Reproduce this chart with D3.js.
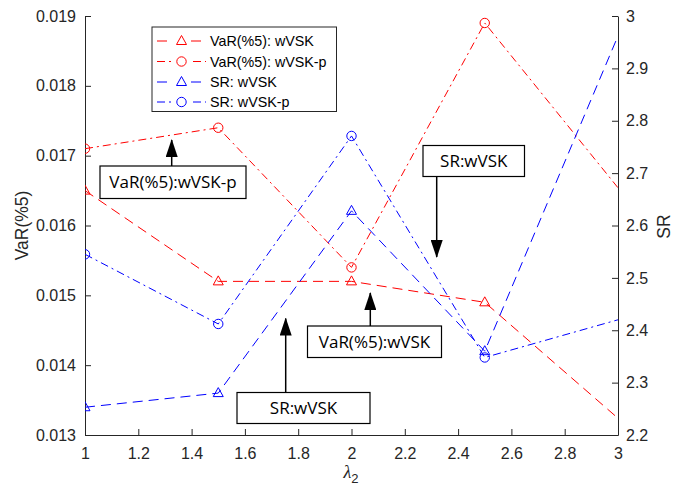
<!DOCTYPE html>
<html>
<head>
<meta charset="utf-8">
<script src="https://cdn.jsdelivr.net/npm/d3@7"></script>
<style>
  body { margin: 0; background: #fff; }
  svg { display: block; }
</style>
</head>
<body>
<svg id="chart" width="673" height="491"></svg>
<script>
// ---- data ----
const lambdas = [1, 1.5, 2, 2.5, 3];
const varWVSK = [0.0165, 0.0152, 0.0152, 0.0149, 0.01324];
const varWVSKp = [0.0171, 0.0174, 0.0154, 0.0189, 0.01654];
const srWVSK = [2.253, 2.280, 2.628, 2.360, 2.962];
const srWVSKp = [2.545, 2.412, 2.771, 2.348, 2.420];
const xTicks = [1, 1.2, 1.4, 1.6, 1.8, 2, 2.2, 2.4, 2.6, 2.8, 3];
const leftTicks = [0.013, 0.014, 0.015, 0.016, 0.017, 0.018, 0.019];
const rightTicks = [2.2, 2.3, 2.4, 2.5, 2.6, 2.7, 2.8, 2.9, 3];
const legendLabels = ["VaR(%5): wVSK", "VaR(%5): wVSK-p", "SR: wVSK", "SR: wVSK-p"];
const annotationTexts = ["VaR(%5):wVSK-p", "SR:wVSK", "VaR(%5):wVSK", "SR:wVSK"];

const svg = d3.select("#chart");
const L = 85, R = 618, T = 16, B = 435;
const axisColor = "#262626";
const font = "'Liberation Sans', Arial, Helvetica, sans-serif";

const x = d3.scaleLinear().domain([1, 3]).range([L, R]);
const yL = d3.scaleLinear().domain([0.013, 0.019]).range([B, T]);
const yR = d3.scaleLinear().domain([2.2, 3]).range([B, T]);

const defs = svg.append("defs");
defs.append("marker")
  .attr("id", "arrow").attr("viewBox", "0 0 18 12")
  .attr("refX", 17).attr("refY", 6)
  .attr("markerWidth", 18).attr("markerHeight", 12)
  .attr("markerUnits", "userSpaceOnUse")
  .attr("orient", "auto")
  .append("path").attr("d", "M0,0 L18,6 L0,12 Z").attr("fill", "#000");
defs.append("clipPath").attr("id", "plotclip")
  .append("rect").attr("x", L).attr("y", T).attr("width", R - L).attr("height", B - T);

// axes
const fmt1 = d => d3.format("")(+d.toFixed(1));
const gx = svg.append("g").attr("transform", `translate(0,${B})`)
  .call(d3.axisBottom(x).tickValues(xTicks).tickSizeInner(-6).tickSizeOuter(0).tickPadding(13).tickFormat(fmt1));
const gl = svg.append("g").attr("transform", `translate(${L},0)`)
  .call(d3.axisLeft(yL).tickValues(leftTicks).tickSizeInner(-6).tickSizeOuter(0).tickPadding(9)
    .tickFormat(d3.format(".3f")));
const gr = svg.append("g").attr("transform", `translate(${R},0)`)
  .call(d3.axisRight(yR).tickValues(rightTicks).tickSizeInner(-6).tickSizeOuter(0).tickPadding(8).tickFormat(fmt1));
[gx, gl, gr].forEach(g => {
  g.selectAll("path.domain").attr("stroke", axisColor).attr("stroke-width", 1);
  g.selectAll(".tick line").attr("stroke", axisColor);
  g.selectAll(".tick text").attr("fill", axisColor).style("font-family", font).style("font-size", "16px");
});

// axis labels
svg.append("text").attr("transform", `translate(27.5,${(T + B) / 2}) rotate(-90)`)
  .attr("text-anchor", "middle").attr("fill", axisColor)
  .style("font-family", font).style("font-size", "17.5px").text("VaR(%5)");
svg.append("text").attr("transform", `translate(670,${(T + B) / 2 + 1}) rotate(-90)`)
  .attr("text-anchor", "middle").attr("fill", axisColor)
  .style("font-family", font).style("font-size", "17.5px").text("SR");
const xl = svg.append("text").attr("x", 351).attr("y", 478).attr("text-anchor", "middle")
  .attr("fill", axisColor).style("font-family", "'Liberation Serif','Times New Roman',serif").style("font-size", "18px");
xl.append("tspan").style("font-style", "italic").text("λ");
xl.append("tspan").attr("dy", 5).style("font-size", "13px").style("font-family", font).text("2");

// series
const series = [
  { vals: varWVSK, y: yL, color: "#ff0000", dash: "10,6", marker: "tri" },
  { vals: varWVSKp, y: yL, color: "#ff0000", dash: "8,4,2,4", marker: "circ" },
  { vals: srWVSK, y: yR, color: "#0000ff", dash: "10,6", marker: "tri" },
  { vals: srWVSKp, y: yR, color: "#0000ff", dash: "8,4,2,4", marker: "circ" }
];
const triPath = "M0,-5.5 L5,3.5 L-5,3.5 Z";

function drawMarker(g, type, cx, cy, color) {
  if (type === "tri") {
    g.append("path").attr("d", triPath).attr("transform", `translate(${cx},${cy})`)
      .attr("fill", "none").attr("stroke", color).attr("stroke-width", 1);
  } else {
    g.append("circle").attr("cx", cx).attr("cy", cy).attr("r", 4.7)
      .attr("fill", "none").attr("stroke", color).attr("stroke-width", 1);
  }
}

const plot = svg.append("g").attr("clip-path", "url(#plotclip)");
series.forEach(s => {
  const line = d3.line().x((d, i) => x(lambdas[i])).y(d => s.y(d));
  plot.append("path").datum(s.vals).attr("d", line)
    .attr("fill", "none").attr("stroke", s.color).attr("stroke-width", 1)
    .attr("stroke-dasharray", s.dash);
  const g = plot.append("g");
  // the series run on past the right limit in the original, so no marker sits at lambda = 3
  s.vals.forEach((v, i) => { if (lambdas[i] < 3) drawMarker(g, s.marker, x(lambdas[i]), s.y(v), s.color); });
});

// legend
const lg = svg.append("g");
lg.append("rect").attr("x", 152).attr("y", 27).attr("width", 184.5).attr("height", 84.5)
  .attr("fill", "#fff").attr("stroke", axisColor).attr("stroke-width", 1);
const legY = [41, 61.5, 82, 102];
series.forEach((s, i) => {
  lg.append("line").attr("x1", 157).attr("x2", 206).attr("y1", legY[i]).attr("y2", legY[i])
    .attr("stroke", s.color).attr("stroke-dasharray", s.dash === "10,6" ? "10,7" : "8,4,2,4")
    .attr("stroke-width", 1);
  lg.append("rect").attr("x", 174).attr("y", legY[i] - 6).attr("width", 15).attr("height", 12).attr("fill", "#fff");
  drawMarker(lg, s.marker, 181.5, legY[i], s.color);
  lg.append("text").attr("x", 210).attr("y", legY[i] + 5).attr("fill", "#000")
    .style("font-family", font).style("font-size", "14.3px").text(legendLabels[i]);
});

// annotations (textboxes with arrows)
const annFont = "'Open Sans', 'Noto Sans', sans-serif";
const boxes = [
  { x0: 100, y0: 166, x1: 246, y1: 198.5, ax: 171.7, ay0: 166, ay1: 140 },
  { x0: 423, y0: 145.5, x1: 524.5, y1: 176.5, ax: 436.7, ay0: 176.5, ay1: 257 },
  { x0: 307.5, y0: 326, x1: 441.5, y1: 357.5, ax: 370.3, ay0: 326, ay1: 293 },
  { x0: 237, y0: 392.5, x1: 370, y1: 423.5, ax: 285.7, ay0: 392.5, ay1: 318.5 }
];
const ag = svg.append("g");
annotationTexts.forEach((t, i) => {
  const b = boxes[i];
  ag.append("line").attr("x1", b.ax).attr("y1", b.ay0).attr("x2", b.ax).attr("y2", b.ay1)
    .attr("stroke", "#000").attr("stroke-width", 1.5).attr("marker-end", "url(#arrow)");
  ag.append("rect").attr("x", b.x0).attr("y", b.y0).attr("width", b.x1 - b.x0).attr("height", b.y1 - b.y0)
    .attr("fill", "none").attr("stroke", "#000").attr("stroke-width", 1.2);
  ag.append("text").attr("x", (b.x0 + b.x1) / 2).attr("y", (b.y0 + b.y1) / 2 + 6)
    .attr("text-anchor", "middle").attr("fill", "#000")
    .style("font-family", annFont).style("font-size", "17px").text(t);
});
</script>
</body>
</html>
